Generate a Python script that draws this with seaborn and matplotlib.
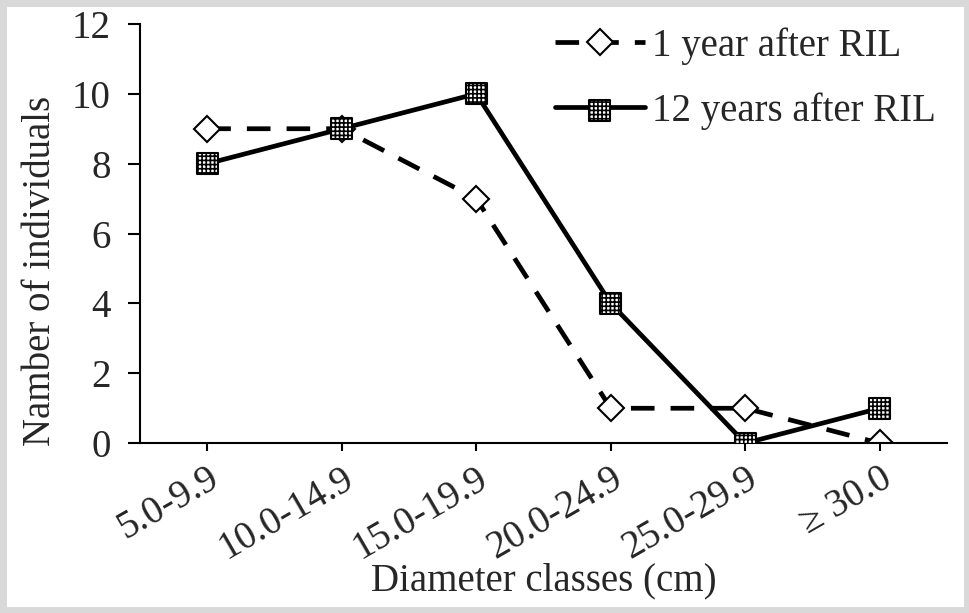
import seaborn as sns
import matplotlib.pyplot as plt
import pandas as pd

classes = ['5.0-9.9', '10.0-14.9', '15.0-19.9', '20.0-24.9', '25.0-29.9', '≥ 30.0']
year1 = [9, 9, 7, 1, 1, 0]
year12 = [8, 9, 10, 4, 0, 1]

df = pd.DataFrame({'cls': classes, 'y1': year1, 'y12': year12})

sns.set_style('white')
plt.rcParams['font.family'] = ['Liberation Serif', 'DejaVu Serif']
plt.rcParams['hatch.linewidth'] = 1.2
plt.rcParams['hatch.color'] = 'black'

fig = plt.figure(figsize=(9.7, 6.13), dpi=100)
ax = fig.add_axes([0.1443, 0.277, 0.832, 0.684])

# 1 year: dashed line, open diamonds
sns.lineplot(data=df, x='cls', y='y1', ax=ax, color='black', linewidth=3.4,
             marker='D', markersize=13, markerfacecolor='white', markeredgecolor='black',
             markeredgewidth=1.5, legend=False)
line1 = ax.get_lines()[-1]
line1.set_dashes([5, 3.4])
line1.set_dash_capstyle('butt')

# 12 years: solid line, dotted squares
sns.lineplot(data=df, x='cls', y='y12', ax=ax, color='black', linewidth=3.4, legend=False)
line2 = ax.get_lines()[-1]
sq = ax.scatter(df['cls'], df['y12'], marker='s', s=230, facecolor='white',
                edgecolor='black', linewidths=1.5, hatch='++++', zorder=5)

ax.set_xlim(-0.5, 5.5)
ax.set_ylim(0, 12)
ax.set_yticks(range(0, 13, 2))
ax.set_xlabel('Diameter classes (cm)', fontsize=28, labelpad=-3)
ax.set_ylabel('Namber of individuals', fontsize=28)
ax.yaxis.set_label_coords(-0.1, 0.41)
ax.tick_params(axis='both', labelsize=28, direction='out', width=1.5,
               bottom=True, left=True, color='black')
ax.tick_params(axis='x', length=6, pad=6)
ax.tick_params(axis='y', length=9, pad=12)
plt.setp(ax.get_xticklabels(), rotation=30, ha='right', rotation_mode='anchor')
for s in ['top', 'right']:
    ax.spines[s].set_visible(False)
for s in ['left', 'bottom']:
    ax.spines[s].set_color('black')
    ax.spines[s].set_linewidth(1.5)

ax.legend(handles=[line1, (line2, sq)], labels=['1 year after RIL', '12 years after RIL'],
          loc='upper right', bbox_to_anchor=(1.03, 1.075), frameon=False, fontsize=28,
          handlelength=2.3, handletextpad=0.2, labelspacing=0.7, scatterpoints=1)

fig.patch.set_edgecolor('#d9d9d9')
fig.patch.set_linewidth(8)
fig.savefig('out.png', dpi=100, edgecolor=fig.get_edgecolor())
